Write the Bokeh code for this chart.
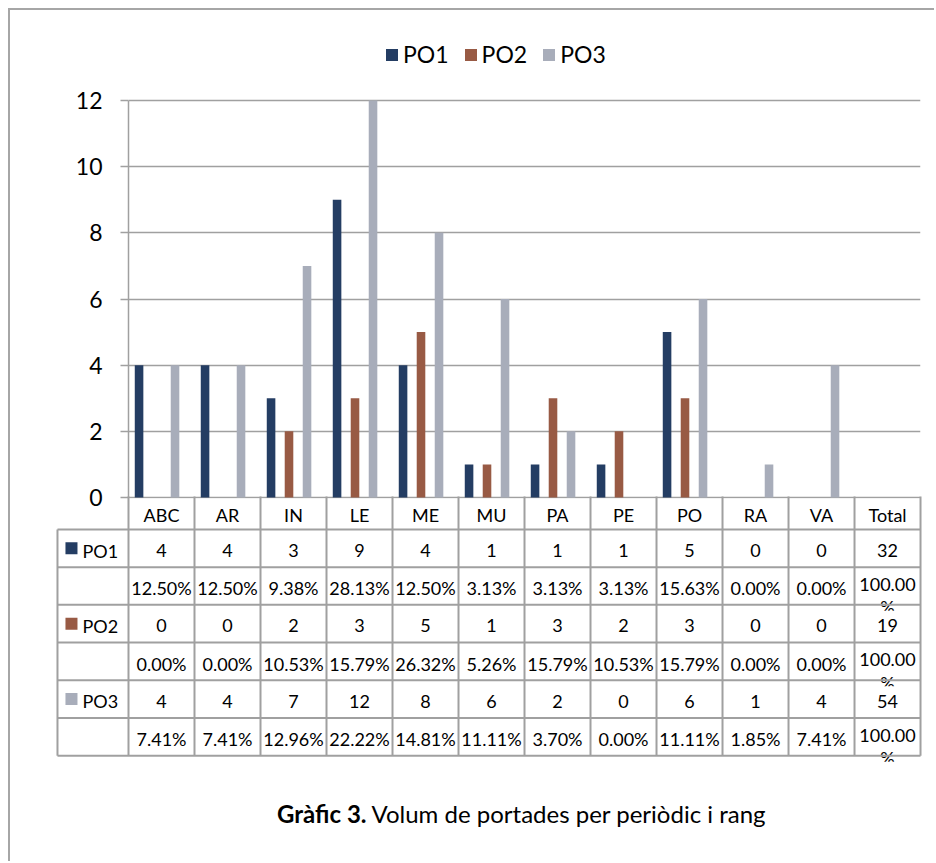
from bokeh.plotting import figure
from bokeh.models import ColumnDataSource, FactorRange, Range1d, Legend, LegendItem, FixedTicker
from bokeh.transform import dodge
from bokeh.core.properties import value
from bokeh.embed import file_html
from bokeh.resources import INLINE

# ---------------- data ----------------
categories = ["ABC", "AR", "IN", "LE", "ME", "MU", "PA", "PE", "PO", "RA", "VA"]
table_columns = categories + ["Total"]
series_names = ["PO1", "PO2", "PO3"]
po1 = [4, 4, 3, 9, 4, 1, 1, 1, 5, 0, 0]
po2 = [0, 0, 2, 3, 5, 1, 3, 2, 3, 0, 0]
po3 = [4, 4, 7, 12, 8, 6, 2, 0, 6, 1, 4]
totals = [32, 19, 54]
po1_pct = ["12.50%", "12.50%", "9.38%", "28.13%", "12.50%", "3.13%", "3.13%", "3.13%", "15.63%", "0.00%", "0.00%"]
po2_pct = ["0.00%", "0.00%", "10.53%", "15.79%", "26.32%", "5.26%", "15.79%", "10.53%", "15.79%", "0.00%", "0.00%"]
po3_pct = ["7.41%", "7.41%", "12.96%", "22.22%", "14.81%", "11.11%", "3.70%", "0.00%", "11.11%", "1.85%", "7.41%"]
total_pct = "100.00%"
y_ticks = [0, 2, 4, 6, 8, 10, 12]
caption_bold = "Gràfic 3."
caption_text = "Volum de portades per periòdic i rang"

# ---------------- style ----------------
colors = ["#243d63", "#985a44", "#a8adba"]
FONT = "Lato"
GRID = "#a0a0a0"
FRAME_BORDER = "2px solid #a6a6a6"
offsets = [-0.34, -0.068, 0.205]
bar_w = 0.13
OVERLAP = 14
TXT_DY = 0.06

# ---------------- chart ----------------
pc = figure(width=926, height=488 + OVERLAP, title=None,
            x_range=FactorRange(*table_columns, range_padding=0),
            y_range=Range1d(-0.03, 14.418),
            x_axis_location=None,
            min_border_left=118, min_border_right=16, min_border_top=10, min_border_bottom=OVERLAP,
            output_backend="svg", toolbar_location=None,
            styles={"margin-left": "8px", "margin-top": "8px",
                    "border-left": FRAME_BORDER, "border-top": FRAME_BORDER})
pc.outline_line_color = None

yax = pc.yaxis[0]
yax.ticker = FixedTicker(ticks=y_ticks)
yax.bounds = (0, 12)
yax.axis_line_color = GRID
yax.axis_line_width = 1.5
yax.major_tick_line_color = GRID
yax.major_tick_line_width = 1.5
yax.major_tick_out = 8
yax.major_tick_in = 0
yax.minor_tick_out = 0
yax.minor_tick_in = 0
yax.major_label_standoff = 18
yax.major_label_text_font = FONT
yax.major_label_text_font_size = "23px"
yax.major_label_text_color = "black"

pc.ygrid.grid_line_color = GRID
pc.ygrid.grid_line_width = 1.6
pc.xgrid.visible = False

src = ColumnDataSource(dict(cat=categories, PO1=po1, PO2=po2, PO3=po3))
rends = []
for name, off, col in zip(series_names, offsets, colors):
    r = pc.vbar(x=dodge("cat", off, range=pc.x_range), top=name, width=bar_w,
                source=src, fill_color=col, line_color=None)
    rends.append(r)

legend = Legend(items=[LegendItem(label=n, renderers=[r]) for n, r in zip(series_names, rends)],
                orientation="horizontal", location=(256, 430),
                glyph_width=15, glyph_height=15, label_height=24,
                label_text_font=FONT, label_text_font_size="23px", label_text_color="black",
                label_standoff=4, spacing=14, padding=0, margin=0,
                border_line_color=None, background_fill_alpha=0)
pc.add_layout(legend, "center")

# ---------------- table ----------------
n_cols = len(table_columns)
leg_left = -1.076
header_h = 0.9
row_edges = [header_h + k for k in range(7)]

pt = figure(width=926, height=365, title=None,
            x_range=Range1d(-1.106, 12.03), y_range=Range1d(9.708, 0.0265),
            x_axis_location=None, y_axis_location=None,
            min_border=0, min_border_left=45, min_border_right=14,
            output_backend="svg", toolbar_location=None,
            styles={"margin-left": "8px", "margin-top": f"-{OVERLAP}px", "border-left": FRAME_BORDER})
pt.outline_line_color = None
pt.background_fill_alpha = 0
pt.border_fill_alpha = 0
pt.grid.visible = False

tx, ty, tt = [], [], []
for j, c in enumerate(table_columns):
    tx.append(j + 0.5); ty.append(header_h / 2 + TXT_DY); tt.append(c)
vals = [po1, po2, po3]
pcts = [po1_pct, po2_pct, po3_pct]
for i in range(3):
    yv = row_edges[2 * i] + 0.5 + TXT_DY
    yp = row_edges[2 * i + 1] + 0.5 + TXT_DY
    for j in range(len(categories)):
        tx.append(j + 0.5); ty.append(yv); tt.append(str(vals[i][j]))
        tx.append(j + 0.5); ty.append(yp); tt.append(pcts[i][j])
    tx.append(len(categories) + 0.5); ty.append(yv); tt.append(str(totals[i]))
    tx.append(len(categories) + 0.5); ty.append(yp - 0.1); tt.append(total_pct[:-1])

# wrapped "%" of the Total column, partly hidden by the next row
pct_x = [len(categories) + 0.5] * 3
pct_y = [row_edges[2 * i + 2] - 0.23 for i in range(3)]
pt.text(x=pct_x, y=pct_y, text=[total_pct[-1]] * 3, text_align="center", text_baseline="top",
        text_font=value(FONT), text_font_size=value("18px"), text_color="black")
cov_top = [row_edges[2 * i + 2] + 0.16 for i in range(3)]
pt.quad(left=[len(categories) + 0.03] * 3, right=[len(categories) + 0.97] * 3,
        top=cov_top, bottom=[t + 0.6 for t in cov_top], fill_color="white", line_color=None)

pt.text(x=tx, y=ty, text=tt, text_align="center", text_baseline="middle",
        text_font=value(FONT), text_font_size=value("18px"), text_color="black")

key_y = [row_edges[2 * i] + 0.5 for i in range(3)]
pt.quad(left=[-0.955] * 3, right=[-0.773] * 3, top=[y - 0.16 for y in key_y],
        bottom=[y + 0.16 for y in key_y], fill_color=colors, line_color=None)
pt.text(x=[-0.697] * 3, y=[y + TXT_DY for y in key_y], text=series_names, text_align="left",
        text_baseline="middle", text_font=value(FONT), text_font_size=value("18px"), text_color="black")

x0, y0, x1, y1 = [], [], [], []
for e in row_edges:
    x0.append(leg_left); x1.append(n_cols); y0.append(e); y1.append(e)
for j in range(n_cols + 1):
    x0.append(j); x1.append(j); y0.append(0); y1.append(row_edges[-1])
x0.append(leg_left); x1.append(leg_left); y0.append(row_edges[0]); y1.append(row_edges[-1])
pt.segment(x0=x0, y0=y0, x1=x1, y1=y1, line_color=GRID, line_width=2)

# caption
pt.text(x=[3.606], y=[8.448], text=[caption_bold], text_align="right", text_baseline="middle",
        text_font=value(FONT), text_font_size=value("24px"), text_font_style="bold", text_color="black")
pt.text(x=[3.682], y=[8.448], text=[caption_text], text_align="left", text_baseline="middle",
        text_font=value(FONT), text_font_size=value("24px"), text_color="black")

open("out.html", "w").write(file_html([pc, pt], INLINE))
